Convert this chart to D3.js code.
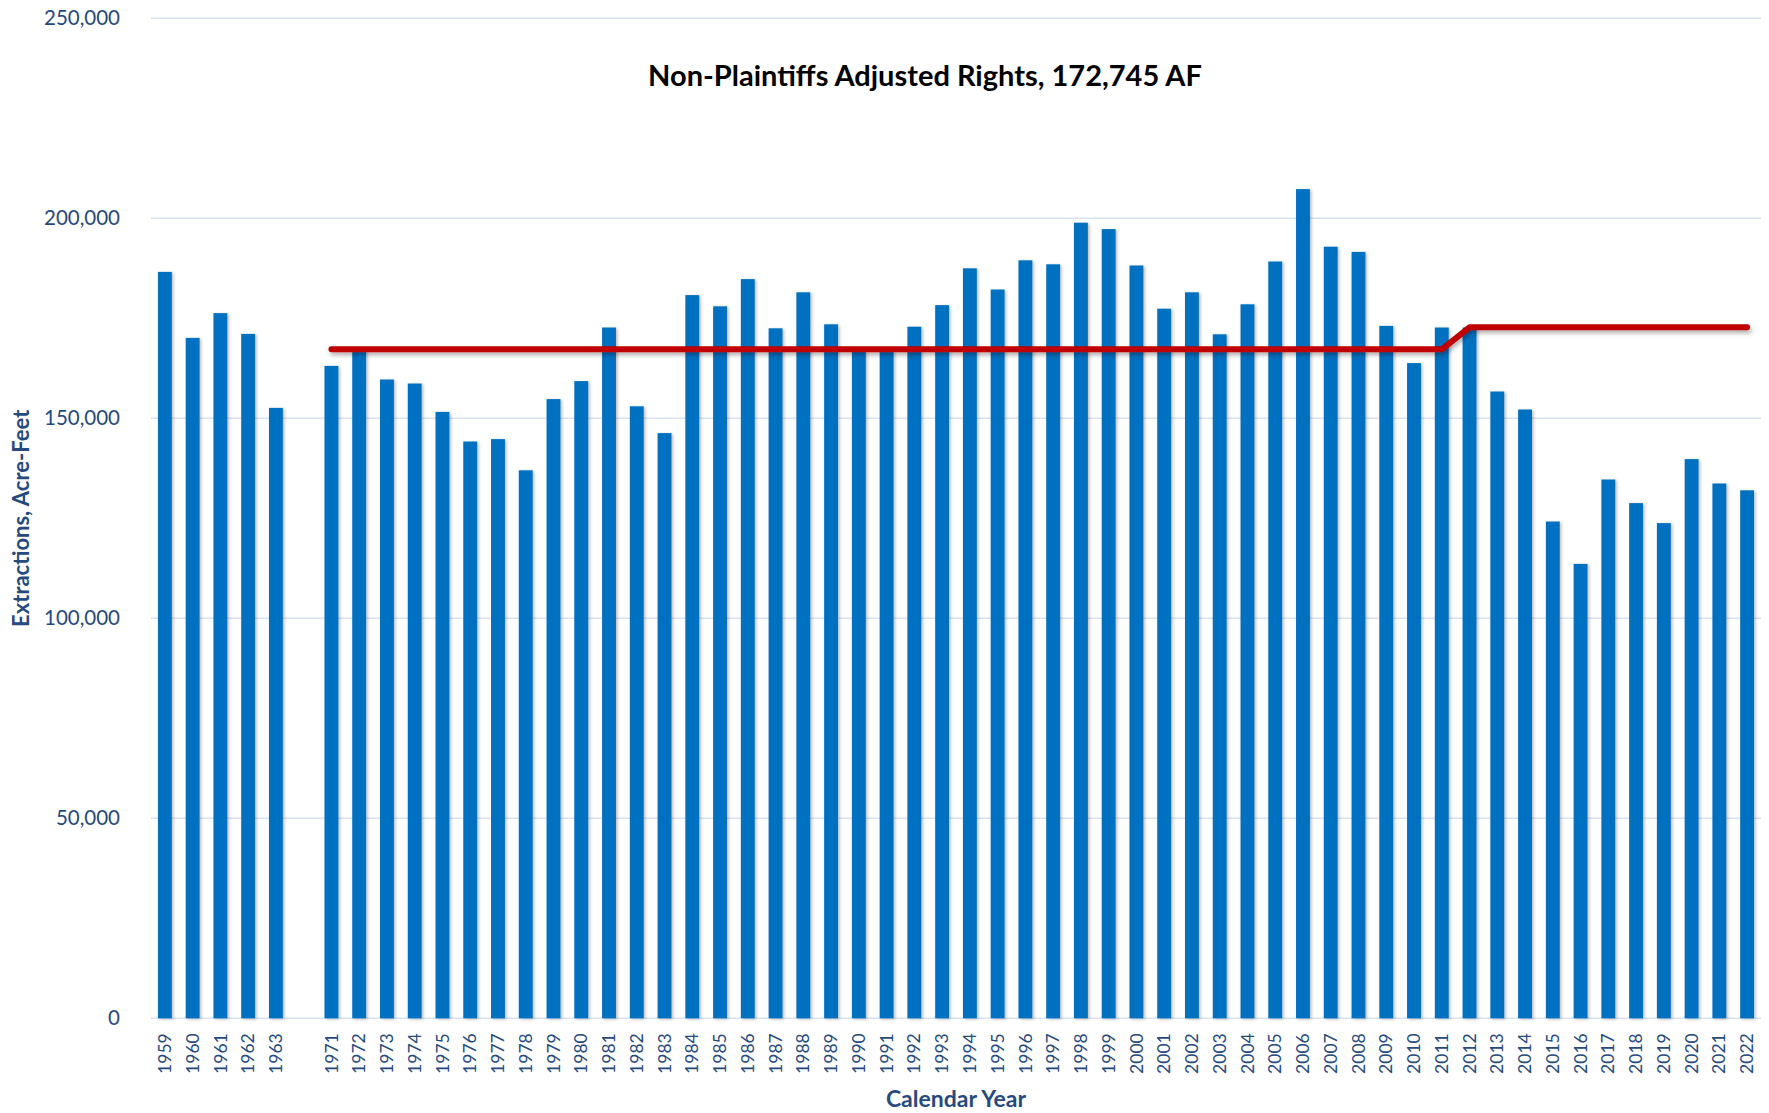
<!DOCTYPE html>
<html>
<head>
<meta charset="utf-8">
<script src="https://cdn.jsdelivr.net/npm/d3@7"></script>
<style>
  body { margin: 0; background: #fff; }
  svg { display: block; font-family: Lato, "Open Sans", sans-serif; }
</style>
</head>
<body>
<div id="chart"></div>
<script>
// calendar years, the blank slot is the gap between 1963 and 1971
const years = ["1959", "1960", "1961", "1962", "1963", "",
  "1971", "1972", "1973", "1974", "1975", "1976", "1977", "1978", "1979", "1980",
  "1981", "1982", "1983", "1984", "1985", "1986", "1987", "1988", "1989", "1990",
  "1991", "1992", "1993", "1994", "1995", "1996", "1997", "1998", "1999", "2000",
  "2001", "2002", "2003", "2004", "2005", "2006", "2007", "2008", "2009", "2010",
  "2011", "2012", "2013", "2014", "2015", "2016", "2017", "2018", "2019", "2020",
  "2021", "2022"];

// extractions, acre-feet
const extractions = [186600, 170100, 176300, 171100, 152600, null,
  163100, 167300, 159700, 158700, 151600, 144200, 144800, 137000, 154800, 159300,
  172700, 153000, 146300, 180800, 178000, 184800, 172500, 181500, 173500, 166800,
  166800, 172900, 178300, 187500, 182200, 189500, 188500, 198900, 197300, 188200,
  177400, 181500, 171000, 178500, 189200, 207300, 192900, 191600, 173100, 163800,
  172700, 172700, 156700, 152200, 124200, 113600, 134700, 128800, 123800, 139800,
  133700, 132000];

// adjusted rights line: year breakpoints and values
const rightsYears = ["1971", "2011", "2012", "2022"];
const rightsValues = [167250, 167250, 172745, 172745];

const yTicks = [0, 50000, 100000, 150000, 200000, 250000];

const title = "Non-Plaintiffs Adjusted Rights, 172,745 AF";
const yTitle = "Extractions, Acre-Feet";
const xTitle = "Calendar Year";

const W = 1769, H = 1113;
const plot = { left: 151, right: 1761, top: 18.3, bottom: 1018.3 };
const labelColor = "#264a7e";
const gridColor = "#d7e3f3";

const svg = d3.select("#chart").append("svg")
  .attr("width", W)
  .attr("height", H);

const defs = svg.append("defs");
defs.append("filter").attr("id", "barShadow")
  .attr("x", "-50%").attr("y", "-5%").attr("width", "200%").attr("height", "110%")
  .append("feDropShadow")
  .attr("dx", 1.5).attr("dy", 1).attr("stdDeviation", 1.6)
  .attr("flood-color", "#000").attr("flood-opacity", 0.28);
defs.append("filter").attr("id", "lineShadow")
  .attr("x", "-5%").attr("y", "-200%").attr("width", "110%").attr("height", "500%")
  .append("feDropShadow")
  .attr("dx", 1.5).attr("dy", 3).attr("stdDeviation", 2)
  .attr("flood-color", "#000").attr("flood-opacity", 0.3);

const x = d3.scaleBand()
  .domain(years)
  .range([plot.left, plot.right])
  .paddingInner(0.5)
  .paddingOuter(0.25);

const y = d3.scaleLinear()
  .domain([0, 250000])
  .range([plot.bottom, plot.top]);

// gridlines
svg.append("g")
  .selectAll("line")
  .data(yTicks)
  .join("line")
  .attr("x1", plot.left)
  .attr("x2", plot.right)
  .attr("y1", d => y(d))
  .attr("y2", d => y(d))
  .attr("stroke", gridColor)
  .attr("stroke-width", 1.5);

// y axis
const yAxis = svg.append("g")
  .attr("transform", `translate(${plot.left - 31},0)`)
  .call(d3.axisLeft(y).tickValues(yTicks).tickFormat(d3.format(",")).tickSize(0).tickPadding(0));
yAxis.select(".domain").remove();
yAxis.selectAll("text")
  .attr("fill", labelColor)
  .style("font-size", "20.5px")
  .style("font-family", "Lato, sans-serif");

// bars
svg.append("g")
  .attr("filter", "url(#barShadow)")
  .selectAll("rect")
  .data(years.map((yr, i) => ({ yr, v: extractions[i] })).filter(d => d.v != null))
  .join("rect")
  .attr("x", d => x(d.yr))
  .attr("width", x.bandwidth())
  .attr("y", d => y(d.v))
  .attr("height", d => y(0) - y(d.v))
  .attr("fill", "#0070c0");

// x axis
const xAxis = svg.append("g")
  .attr("transform", `translate(0,${plot.bottom})`)
  .call(d3.axisBottom(x).tickSize(0).tickPadding(0));
xAxis.select(".domain").remove();
xAxis.selectAll("text")
  .attr("fill", labelColor)
  .attr("transform", "rotate(-90)")
  .attr("text-anchor", "end")
  .attr("x", -15)
  .attr("y", 0)
  .attr("dy", "0.35em")
  .style("font-size", "17.5px")
  .style("font-family", "Lato, sans-serif");

// adjusted rights line
const line = d3.line()
  .x(d => x(d[0]) + x.bandwidth() / 2)
  .y(d => y(d[1]));
svg.append("path")
  .datum(rightsYears.map((yr, i) => [yr, rightsValues[i]]))
  .attr("d", line)
  .attr("fill", "none")
  .attr("stroke", "#c00000")
  .attr("stroke-width", 6)
  .attr("stroke-linecap", "round")
  .attr("stroke-linejoin", "round")
  .attr("filter", "url(#lineShadow)");

// titles
svg.append("text")
  .attr("x", 925)
  .attr("y", 86)
  .attr("text-anchor", "middle")
  .style("font-size", "29px")
  .style("font-weight", "bold")
  .attr("fill", "#000")
  .text(title);

svg.append("text")
  .attr("transform", `translate(29,${(plot.top + plot.bottom) / 2}) rotate(-90)`)
  .attr("text-anchor", "middle")
  .style("font-size", "22px")
  .style("font-weight", "bold")
  .attr("fill", labelColor)
  .text(yTitle);

svg.append("text")
  .attr("x", (plot.left + plot.right) / 2)
  .attr("y", 1107)
  .attr("text-anchor", "middle")
  .style("font-size", "23px")
  .style("font-weight", "bold")
  .attr("fill", labelColor)
  .text(xTitle);
</script>
</body>
</html>
